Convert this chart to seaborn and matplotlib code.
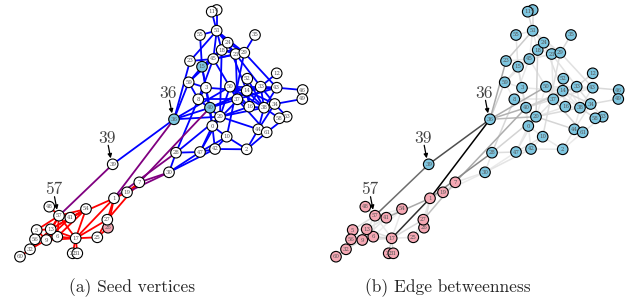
from collections import deque

import matplotlib
matplotlib.use("Agg")
import matplotlib.pyplot as plt
from matplotlib.collections import LineCollection
import seaborn as sns

sns.set_style("white")
plt.rcParams['font.family'] = ['cmr10', 'DejaVu Serif']
plt.rcParams['axes.formatter.use_mathtext'] = True

# node layout (same layout used in both panels), indexed by node id 0..61
node_x = [212.3, 114.0, 246.7, 206.0, 216.7, 36.7, 57.3, 139.3, 198.3, 46.3,
          226.7, 211.7, 276.7, 50.7, 246.7, 202.0, 249.3, 75.7, 221.7, 127.0,
          220.0, 235.7, 72.7, 190.0, 227.7, 97.3, 108.0, 107.3, 176.0, 244.3,
          169.0, 77.3, 30.0, 260.7, 274.7, 255.0, 174.0, 237.3, 264.0, 112.7,
          210.0, 70.3, 215.0, 276.7, 258.3, 213.3, 302.7, 200.0, 49.3, 302.3,
          230.0, 216.7, 247.3, 286.7, 86.0, 200.0, 35.0, 59.0, 279.3, 188.7,
          20.0, 266.7]
node_y = [126.0, 198.3, 149.3, 87.7, 10.0, 230.0, 236.7, 182.3, 99.3, 240.0,
          136.7, 11.7, 73.3, 229.3, 90.7, 66.7, 106.7, 238.3, 50.0, 192.3,
          116.7, 54.0, 253.3, 61.0, 42.7, 237.3, 227.7, 219.7, 152.7, 52.7,
          172.3, 253.3, 249.3, 86.7, 104.0, 35.0, 119.3, 99.3, 107.7, 164.3,
          107.7, 217.7, 149.0, 87.7, 129.3, 59.0, 90.0, 152.0, 206.7, 99.0,
          86.7, 30.7, 78.7, 116.7, 209.0, 35.0, 239.3, 215.7, 118.3, 82.3,
          256.7, 132.3]

edges = [
    (8, 3), (9, 5), (9, 6), (10, 0), (10, 2), (13, 5), (13, 6), (13, 9),
    (14, 0), (14, 3), (15, 0), (16, 14), (17, 1), (17, 6), (17, 9), (17, 13),
    (18, 15), (19, 1), (19, 7), (20, 8), (20, 16), (20, 18), (21, 18),
    (22, 17), (24, 14), (24, 15), (24, 18), (25, 17), (26, 1), (26, 25),
    (27, 1), (27, 7), (27, 17), (27, 25), (27, 26), (28, 1), (28, 8),
    (28, 20), (29, 10), (29, 18), (29, 21), (29, 24), (30, 7), (30, 19),
    (30, 28), (31, 17), (32, 9), (32, 13), (33, 12), (33, 14), (33, 16),
    (33, 21), (34, 14), (34, 33), (35, 29), (36, 1), (36, 20), (36, 23),
    (37, 8), (37, 14), (37, 16), (37, 21), (38, 14), (38, 16), (38, 20),
    (38, 33), (39, 36), (40, 0), (40, 7), (40, 14), (40, 15), (40, 33),
    (40, 36), (40, 37), (41, 1), (41, 9), (41, 13), (42, 0), (42, 2),
    (42, 10), (42, 30), (43, 14), (43, 29), (43, 33), (43, 37), (43, 38),
    (44, 2), (44, 20), (44, 34), (44, 38), (45, 8), (45, 15), (45, 18),
    (45, 21), (45, 23), (45, 24), (45, 29), (45, 37), (46, 43), (47, 0),
    (47, 10), (47, 20), (47, 28), (47, 30), (47, 42), (49, 34), (49, 46),
    (50, 14), (50, 16), (50, 20), (50, 33), (50, 36), (50, 37), (50, 38),
    (51, 4), (51, 11), (51, 18), (51, 21), (51, 23), (51, 24), (51, 29),
    (51, 45), (52, 14), (52, 16), (52, 38), (53, 34), (54, 6), (54, 13),
    (54, 17), (54, 41), (55, 15), (55, 51), (56, 5), (56, 6), (57, 5),
    (57, 6), (57, 9), (57, 13), (57, 17), (57, 39), (57, 41), (57, 48),
    (57, 54), (58, 38), (59, 3), (59, 8), (59, 15), (59, 36), (59, 45),
    (60, 32), (61, 2), (61, 37), (61, 53),
]

# the smaller community (pink in panel b)
small_group = [1, 5, 6, 7, 9, 13, 17, 19, 22, 25, 26, 27, 31, 32, 41, 48,
               54, 56, 57, 60]
seeds_blue = [15, 36, 40]
seeds_pink = [26]
marked = [36, 39, 57]

BLUE_FILL = "#7ec6e0"
PINK_FILL = "#f5a8b4"


def edge_betweenness(n, edge_list):
    """Brandes edge betweenness for an unweighted graph"""
    adj = [[] for _ in range(n)]
    for u, v in edge_list:
        adj[u].append(v)
        adj[v].append(u)
    eb = {tuple(sorted(e)): 0.0 for e in edge_list}
    for s in range(n):
        stack = []
        pred = [[] for _ in range(n)]
        sigma = [0] * n
        sigma[s] = 1
        dist = [-1] * n
        dist[s] = 0
        queue = deque([s])
        while queue:
            v = queue.popleft()
            stack.append(v)
            for w in adj[v]:
                if dist[w] < 0:
                    dist[w] = dist[v] + 1
                    queue.append(w)
                if dist[w] == dist[v] + 1:
                    sigma[w] += sigma[v]
                    pred[w].append(v)
        delta = [0.0] * n
        while stack:
            w = stack.pop()
            for v in pred[w]:
                c = sigma[v] / sigma[w] * (1 + delta[w])
                eb[tuple(sorted((v, w)))] += c
                delta[v] += c
    return eb


def draw_nodes(ax, groups, palette):
    sns.scatterplot(x=node_x, y=node_y, hue=groups, palette=palette, s=58,
                    edgecolor="black", linewidth=0.8, legend=False, ax=ax,
                    zorder=3)
    for i, (x, y) in enumerate(zip(node_x, node_y)):
        ax.text(x, y, str(i), fontsize=3.9, color="#555555", ha="center",
                va="center", zorder=4, family="DejaVu Serif")
    for n in marked:
        ax.annotate("", xy=(node_x[n] - 2, node_y[n] - 6),
                    xytext=(node_x[n] - 4.5, node_y[n] - 19),
                    arrowprops=dict(arrowstyle="-|>", color="black", lw=0.9,
                                    shrinkA=0, shrinkB=0, mutation_scale=6),
                    zorder=5)
        ax.text(node_x[n] - 5.7, node_y[n] - 26, str(n), fontsize=12.5,
                color="#444444", ha="center", va="center", zorder=5)


def setup(ax, caption):
    ax.set_xlim(0, 318)
    ax.set_ylim(299, 0)
    ax.axis("off")
    ax.text(131.7, 287.5, caption, fontsize=12.5, ha="center", va="center")


n_nodes = len(node_x)
small = set(small_group)
segs = [[(node_x[u], node_y[u]), (node_x[v], node_y[v])] for u, v in edges]

fig = plt.figure(figsize=(6.36, 2.99), dpi=100)
ax_a = fig.add_axes([0, 0, 318 / 636, 1])
ax_b = fig.add_axes([316 / 636, 0, 318 / 636, 1])

# (a) communities grown from seed vertices
edge_cols = []
for u, v in edges:
    if u in small and v in small:
        edge_cols.append("#ff0000")
    elif u in small or v in small:
        edge_cols.append("#800080")
    else:
        edge_cols.append("#0000ff")
ax_a.add_collection(LineCollection(segs, colors=edge_cols, linewidths=1.3,
                                   zorder=1))
groups_a = ["blue" if i in seeds_blue else "pink" if i in seeds_pink
            else "none" for i in range(n_nodes)]
draw_nodes(ax_a, groups_a, {"blue": BLUE_FILL, "pink": PINK_FILL,
                            "none": "white"})
setup(ax_a, "(a) Seed vertices")

# (b) edges shaded by edge betweenness (dark = high)
eb = edge_betweenness(n_nodes, edges)
bmax = max(eb.values())
order = sorted(range(len(edges)), key=lambda k: eb[tuple(sorted(edges[k]))])
gray_segs = [segs[k] for k in order]
gray_cols = [str(0.93 * (1 - (eb[tuple(sorted(edges[k]))] / bmax) ** 1.6))
             for k in order]
ax_b.add_collection(LineCollection(gray_segs, colors=gray_cols,
                                   linewidths=1.1, zorder=1))
groups_b = ["pink" if i in small else "blue" for i in range(n_nodes)]
draw_nodes(ax_b, groups_b, {"blue": BLUE_FILL, "pink": PINK_FILL})
setup(ax_b, "(b) Edge betweenness")

fig.savefig("out.png", dpi=100)
